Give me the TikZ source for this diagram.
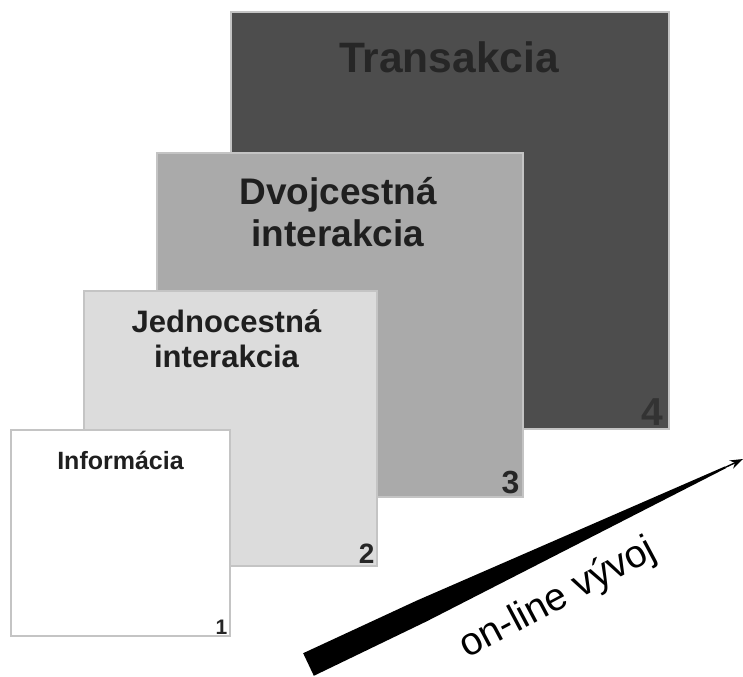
\documentclass[tikz,border=0pt]{standalone}
\usepackage{fontspec}
\setmainfont{Liberation Sans}
\usetikzlibrary{arrows.meta, calc}
\definecolor{edgegray}{HTML}{C4C4C4}
\definecolor{lvlone}{HTML}{FFFFFF}
\definecolor{lvltwo}{HTML}{DCDCDC}
\definecolor{lvlthree}{HTML}{AAAAAA}
\definecolor{lvlfour}{HTML}{4D4D4D}
\tikzset{
  stage/.style={rectangle,draw=edgegray,line width=1.2bp,inner sep=0pt},
  title/.style={anchor=base,align=center,text=black!88},
  num/.style={anchor=south east,inner sep=0pt,text=black!85},
  line/.style={-{Stealth[length=13bp,width=9bp]},line width=1.4bp}
}
\newcommand{\fs}[2]{\fontsize{#1bp}{#2bp}\selectfont}

\begin{document}
\begin{tikzpicture}[x=1bp,y=-1bp]
\useasboundingbox (0,0) rectangle (743,677);
% stages, back to front
\node[stage, fill=lvlfour, minimum width=438bp, minimum height=417bp] (s4) at (450,220.5) {};
\node[title, font=\bfseries\fs{42.5}{48}, text=black!85] (t4) at ($(s4.north)+(-1,61)$) {Transakcia};
\node[num, font=\bfseries\fs{39}{44}, text=black!80] (n4) at ([shift={(-6,-4)}]s4.south east) {4};

\node[stage, fill=lvlthree, minimum width=366bp, minimum height=344bp] (s3) at (340,325) {};
% base anchor sits on the last line
\node[title, font=\bfseries\fs{37}{42}] (t3) at ($(s3.north)+(-2,94)$) {Dvojcestná\\interakcia};
\node[num, font=\bfseries\fs{32}{36}] (n3) at ([shift={(-4,-4)}]s3.south east) {3};

\node[stage, fill=lvltwo, minimum width=293bp, minimum height=275bp] (s2) at (230.5,428.5) {};
\node[title, font=\bfseries\fs{31}{35}] (t2) at ($(s2.north)+(-4,77)$) {Jednocestná\\interakcia};
\node[num, font=\bfseries\fs{28}{32}] (n2) at ([shift={(-3,-3)}]s2.south east) {2};

\node[stage, fill=lvlone, minimum width=219bp, minimum height=206bp] (s1) at (120.5,533) {};
\node[title, font=\bfseries\fs{25}{29}] (t1) at ($(s1.north)+(0,40)$) {Informácia};
\node[num, font=\bfseries\fs{21}{25}] (n1) at ([shift={(-3,-2)}]s1.south east) {1};

% development arrow
\coordinate (tail) at (308.5,664.5);
\coordinate (tip) at (743,459);
\coordinate (knee) at ($(tail)!0.26!(tip)$);
\coordinate (neck) at ($(tail)!0.96!(tip)$);
\fill ($(tail)!12.5bp!90:(tip)$) -- ($(knee)!11.5bp!90:(tip)$) -- ($(neck)!1bp!90:(tip)$)
  -- ($(neck)!1bp!-90:(tip)$) -- ($(knee)!11.5bp!-90:(tip)$) -- ($(tail)!12.5bp!-90:(tip)$) -- cycle;
\draw[line] (neck) -- (tip);
\node[rotate=28, anchor=base, font=\fs{39}{44}] (dev) at (563,608) {on-line vývoj};
\end{tikzpicture}
\end{document}
